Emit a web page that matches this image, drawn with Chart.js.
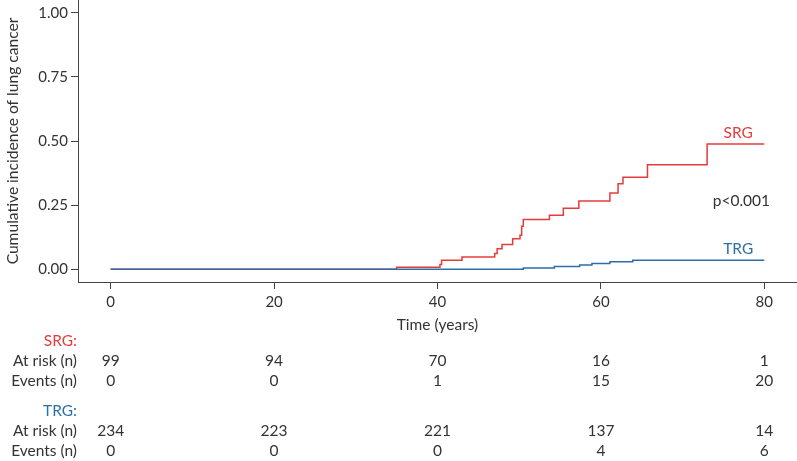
<!DOCTYPE html>
<html>
<head>
<meta charset="utf-8">
<script src="https://cdn.jsdelivr.net/npm/chart.js@4.4.1/dist/chart.umd.min.js"></script>
<style>
  html, body { margin: 0; padding: 0; background: #fff; }
  #wrap { width: 797px; height: 461px; position: relative; }
</style>
</head>
<body>
<div id="wrap"><canvas id="km"></canvas></div>
<script>
// cumulative incidence, step data
var srgTime = [0, 35, 40.3, 40.5, 43, 47, 47.3, 47.9, 49.2, 50.1, 50.3, 50.5, 53.7, 55.4, 57.3, 61.1, 62.1, 62.7, 65.7, 73, 80]
var srgInc = [0, 0.008, 0.018, 0.035, 0.048, 0.061, 0.08, 0.096, 0.119, 0.132, 0.167, 0.194, 0.21, 0.238, 0.266, 0.297, 0.333, 0.359, 0.407, 0.488, 0.488]
var trgTime = [0, 50.5, 54.3, 57.4, 58.9, 61.1, 63.9, 80]
var trgInc = [0, 0.005, 0.01, 0.016, 0.022, 0.029, 0.035, 0.035]

var xTicks = [0, 20, 40, 60, 80]
var yTicks = [0, 0.25, 0.5, 0.75, 1]

// risk table
var tableTimes = [0, 20, 40, 60, 80]
var srgAtRisk = [99, 94, 70, 16, 1]
var srgEvents = [0, 0, 1, 15, 20]
var trgAtRisk = [234, 223, 221, 137, 14]
var trgEvents = [0, 0, 0, 4, 6]

const RED = '#e63b3b'
const BLUE = '#2c6ea6'
const TXT = '#333333'
const FONT = 'Lato, "Liberation Sans", sans-serif'

function toPoints(xs, ys) {
    return xs.map((x, i) => ({ x: x, y: ys[i] }))
}

const extras = {
    id: 'extras',
    afterDraw(chart) {
        const ctx = chart.ctx
        const xs = chart.scales.x
        const ys = chart.scales.y
        ctx.save()
        ctx.font = '15.5px ' + FONT
        ctx.textBaseline = 'middle'

        // curve labels
        ctx.textAlign = 'center'
        ctx.fillStyle = RED
        ctx.fillText('SRG', xs.getPixelForValue(76.8), ys.getPixelForValue(0.531))
        ctx.fillStyle = BLUE
        ctx.fillText('TRG', xs.getPixelForValue(76.8), ys.getPixelForValue(0.077))
        ctx.fillStyle = TXT
        ctx.fillText('p<0.001', xs.getPixelForValue(77.2), ys.getPixelForValue(0.267))

        // risk table
        const rows = [
            { label: 'SRG:', color: RED, y: 341 },
            { label: 'At risk (n)', color: TXT, y: 361, vals: srgAtRisk },
            { label: 'Events (n)', color: TXT, y: 381, vals: srgEvents },
            { label: 'TRG:', color: BLUE, y: 411 },
            { label: 'At risk (n)', color: TXT, y: 431, vals: trgAtRisk },
            { label: 'Events (n)', color: TXT, y: 451, vals: trgEvents }
        ]
        rows.forEach(r => {
            ctx.textAlign = 'right'
            ctx.fillStyle = r.color
            ctx.fillText(r.label, 77, r.y)
            if (r.vals) {
                ctx.textAlign = 'center'
                ctx.fillStyle = TXT
                r.vals.forEach((v, i) => {
                    ctx.fillText(String(v), xs.getPixelForValue(tableTimes[i]), r.y)
                })
            }
        })
        ctx.restore()
    }
}

new Chart(document.getElementById('km'), {
    type: 'line',
    data: {
        datasets: [{
            label: 'SRG',
            data: toPoints(srgTime, srgInc),
            borderColor: RED,
            borderWidth: 1.5,
            stepped: 'before',
            pointRadius: 0,
            fill: false,
            order: 2
        }, {
            label: 'TRG',
            data: toPoints(trgTime, trgInc),
            borderColor: BLUE,
            borderWidth: 1.5,
            stepped: 'before',
            pointRadius: 0,
            fill: false,
            order: 1
        }]
    },
    options: {
        responsive: true,
        maintainAspectRatio: false,
        animation: false,
        devicePixelRatio: 1,
        layout: { padding: { left: 0, top: 0, right: 0, bottom: 125 } },
        plugins: {
            legend: { display: false },
            tooltip: { enabled: false }
        },
        scales: {
            x: {
                type: 'linear',
                min: -4,
                max: 84,
                afterBuildTicks: s => { s.ticks = xTicks.map(v => ({ value: v })) },
                afterFit: s => { s.height = 54; s.paddingLeft = 0; s.paddingRight = 0 },
                grid: { drawOnChartArea: false, drawTicks: true, tickLength: 7, color: '#444' },
                border: { display: true, color: '#444', width: 1 },
                ticks: { color: TXT, font: { family: FONT, size: 15 }, padding: 4, maxRotation: 0 },
                title: {
                    display: true,
                    text: 'Time (years)',
                    color: TXT,
                    font: { family: FONT, size: 15.5 },
                    padding: { top: 0, bottom: 2 }
                }
            },
            y: {
                type: 'linear',
                min: -0.05,
                max: 1.05,
                afterBuildTicks: s => { s.ticks = yTicks.map(v => ({ value: v })) },
                afterFit: s => { s.width = 78; s.paddingTop = 0; s.paddingBottom = 0 },
                grid: { drawOnChartArea: false, drawTicks: true, tickLength: 7, color: '#444' },
                border: { display: true, color: '#444', width: 1 },
                ticks: {
                    color: TXT,
                    font: { family: FONT, size: 15 },
                    padding: 3,
                    callback: v => v.toFixed(2)
                },
                title: {
                    display: true,
                    text: 'Cumulative incidence of lung cancer',
                    color: TXT,
                    font: { family: FONT, size: 15.6 },
                    padding: { top: 4, bottom: 0 }
                }
            }
        }
    },
    plugins: [extras]
});
</script>
</body>
</html>
